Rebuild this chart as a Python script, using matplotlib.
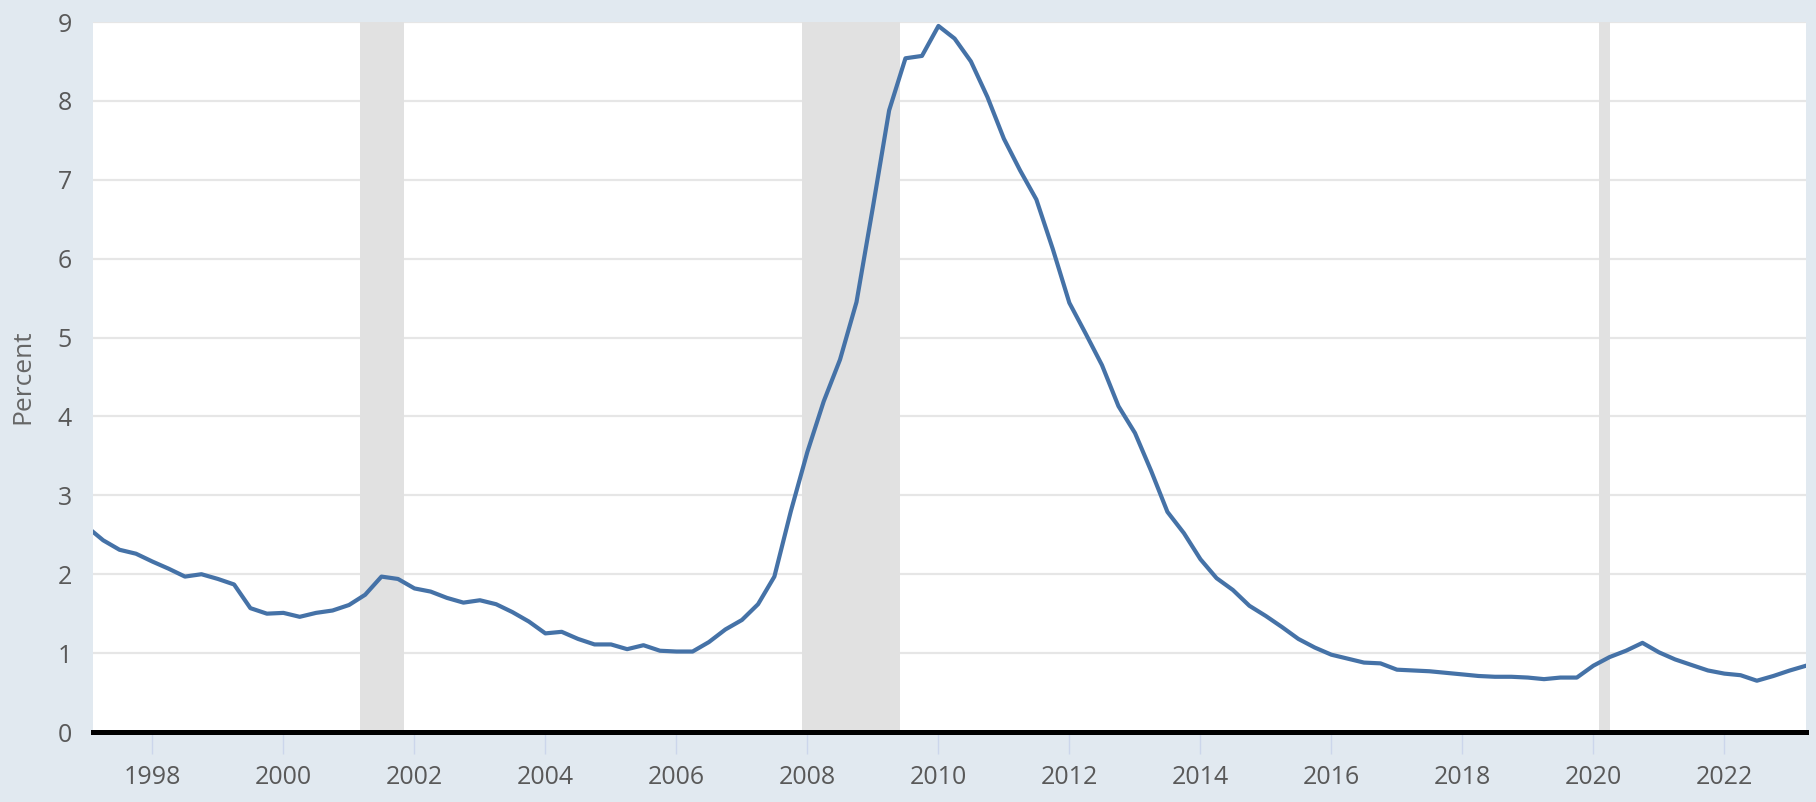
import numpy as np
import pandas as pd
import matplotlib
matplotlib.use('Agg')
import matplotlib.pyplot as plt
import matplotlib.dates as mdates

plt.rcParams['font.family'] = ['Open Sans', 'DejaVu Sans']

# Quarterly delinquency rate, percent (1997Q1 .. 2023Q2)
rate = [2.60, 2.43, 2.31, 2.26, 2.16, 2.07, 1.97, 2.00, 1.94, 1.87,
        1.57, 1.50, 1.51, 1.46, 1.51, 1.54, 1.61, 1.74, 1.97, 1.94,
        1.82, 1.78, 1.70, 1.64, 1.67, 1.62, 1.52, 1.40, 1.25, 1.27,
        1.18, 1.11, 1.11, 1.05, 1.10, 1.03, 1.02, 1.02, 1.14, 1.30,
        1.42, 1.62, 1.97, 2.80, 3.55, 4.19, 4.72, 5.45, 6.66, 7.88,
        8.54, 8.57, 8.95, 8.79, 8.50, 8.05, 7.52, 7.12, 6.75, 6.12,
        5.44, 5.05, 4.65, 4.13, 3.79, 3.31, 2.79, 2.52, 2.19, 1.95,
        1.80, 1.60, 1.47, 1.33, 1.18, 1.07, 0.98, 0.93, 0.88, 0.87,
        0.79, 0.78, 0.77, 0.75, 0.73, 0.71, 0.70, 0.70, 0.69, 0.67,
        0.69, 0.69, 0.84, 0.95, 1.03, 1.13, 1.01, 0.92, 0.85, 0.78,
        0.74, 0.72, 0.65, 0.71, 0.78, 0.84]
dates = pd.date_range('1997-01-01', periods=len(rate), freq='QS')

# recession periods (shaded)
rec_start = ['2001-03-01', '2007-12-01', '2020-02-01']
rec_end = ['2001-11-01', '2009-06-01', '2020-04-01']

tick_years = list(range(1998, 2023, 2))
y_ticks = list(range(0, 10))

W, H = 1816, 802
fig = plt.figure(figsize=(W / 100, H / 100), dpi=100)
fig.patch.set_facecolor('#e1e9f0')
ax = fig.add_axes([92.6 / W, 70 / H, (1806 - 92.6) / W, (732 - 22) / H])
ax.set_facecolor('white')

for s, e in zip(rec_start, rec_end):
    ax.axvspan(pd.Timestamp(s), pd.Timestamp(e), color='#e1e1e1', lw=0, zorder=1)

for v in y_ticks[1:]:
    ax.axhline(v, color='#e6e6e6', lw=1.6, zorder=0.5)

ax.plot(dates, rate, color='#4572a7', lw=3.0, zorder=3, solid_joinstyle='round')
ax.axhline(0, color='black', lw=3.6, zorder=4, clip_on=False)

ax.set_xlim(pd.Timestamp('1997-02-01'), pd.Timestamp('2023-04-01'))
ax.set_ylim(0, 9)

ax.set_xticks([pd.Timestamp(f'{y}-01-01') for y in tick_years])
ax.xaxis.set_major_formatter(mdates.DateFormatter('%Y'))
ax.set_yticks(y_ticks)

for sp in ax.spines.values():
    sp.set_visible(False)

ax.tick_params(axis='x', length=16, width=1, color='#ccd6eb', pad=8,
               labelsize=18, labelcolor='#595959')
ax.tick_params(axis='y', length=0, pad=15, labelsize=18, labelcolor='#595959')
ax.set_ylabel('Percent', fontsize=19, color='#666666', labelpad=16)

fig.savefig('out.png', dpi=100, facecolor=fig.get_facecolor())
